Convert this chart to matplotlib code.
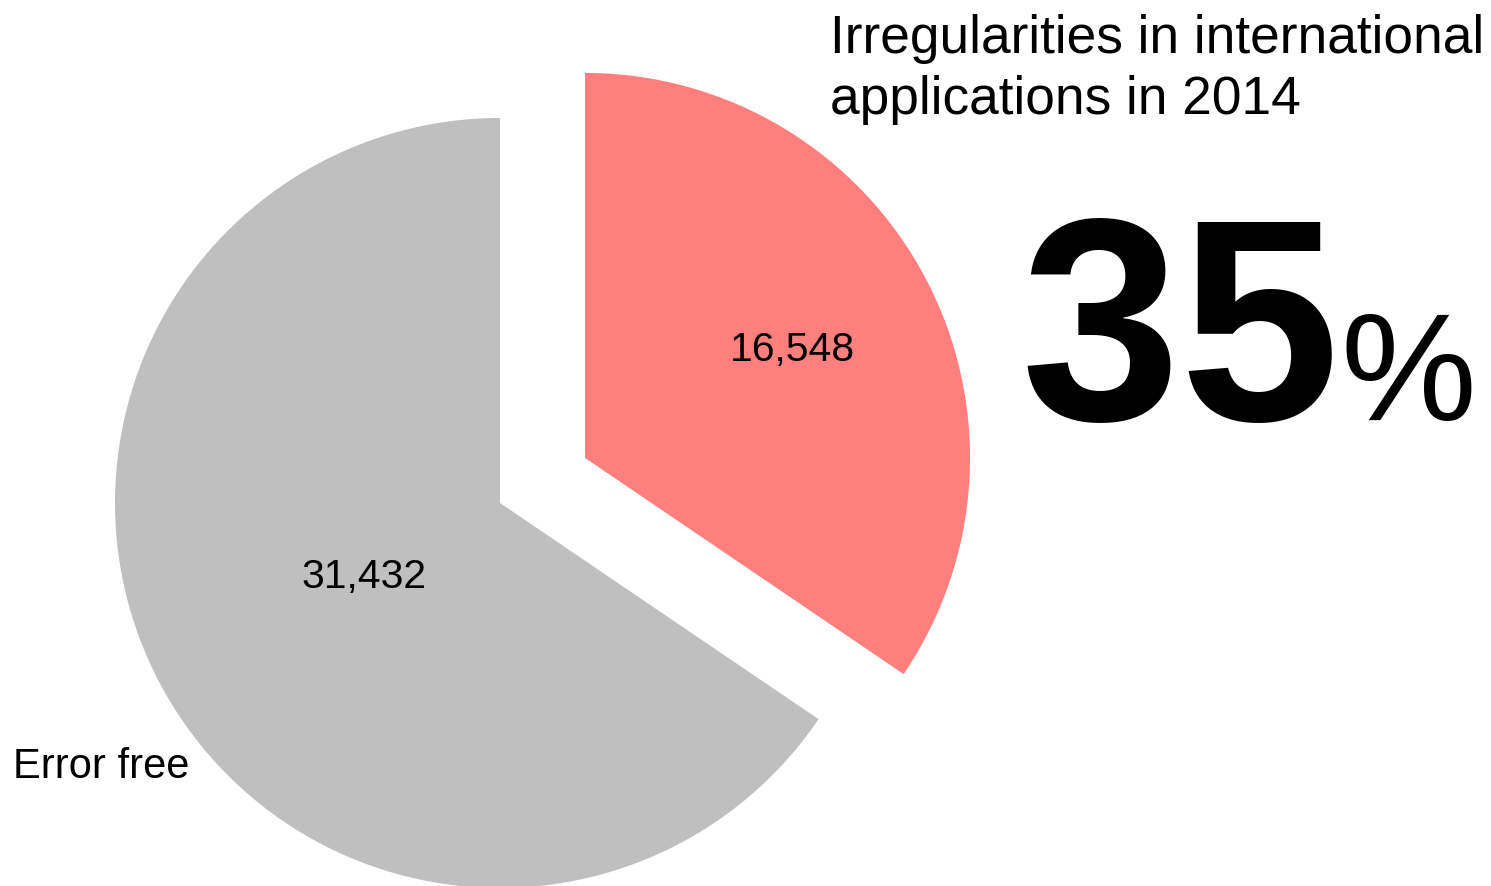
import numpy as np
import matplotlib
matplotlib.use("Agg")
import matplotlib.pyplot as plt

plt.rcParams['font.family'] = ['Liberation Sans', 'DejaVu Sans']

# data
values = [16548, 31432]
names = ["Irregularities", "Error free"]
colors = ["#FF7F7F", "#BFBFBF"]
explode = [0.25, 0]
value_dist = [0.61, 0.40]
title_lines = ["Irregularities in international", "applications in 2014"]
headline = "35"   # as printed on the chart

W, H = 1491, 886
fig = plt.figure(figsize=(W / 100, H / 100), dpi=100)
ax = fig.add_axes([0, 0, 1, 1])

wedges, _ = ax.pie(values, colors=colors, explode=explode, startangle=90,
                   counterclock=False, radius=1)

for w, v, d in zip(wedges, values, value_dist):
    mid = np.deg2rad((w.theta1 + w.theta2) / 2)
    cx, cy = w.center
    ax.text(cx + d * np.cos(mid), cy + d * np.sin(mid) - 0.005, "{:,}".format(v),
            ha="center", va="center", fontsize=29.5, color="black")

# label for the grey slice
ax.text(-1.265, -0.714, names[1], ha="left", va="baseline", fontsize=30)

# pie centre at pixel (500, 503), radius 385 px
r_px = 385.0
ax.set_xlim(-500 / r_px, (W - 500) / r_px)
ax.set_ylim((503 - H) / r_px, 503 / r_px)
ax.set_aspect("auto")
ax.axis("off")

fig.text(830 / W, 1 - 53 / H, title_lines[0], fontsize=38.3, va="baseline", ha="left")
fig.text(830 / W, 1 - 114 / H, title_lines[1], fontsize=38.3, va="baseline", ha="left")

fig.text(1020 / W, 1 - 420 / H, headline, fontsize=207, fontweight="bold",
         va="baseline", ha="left")
fig.text(1340 / W, 1 - 420 / H, "%", fontsize=110, va="baseline", ha="left")

fig.savefig("out.png", dpi=100)
